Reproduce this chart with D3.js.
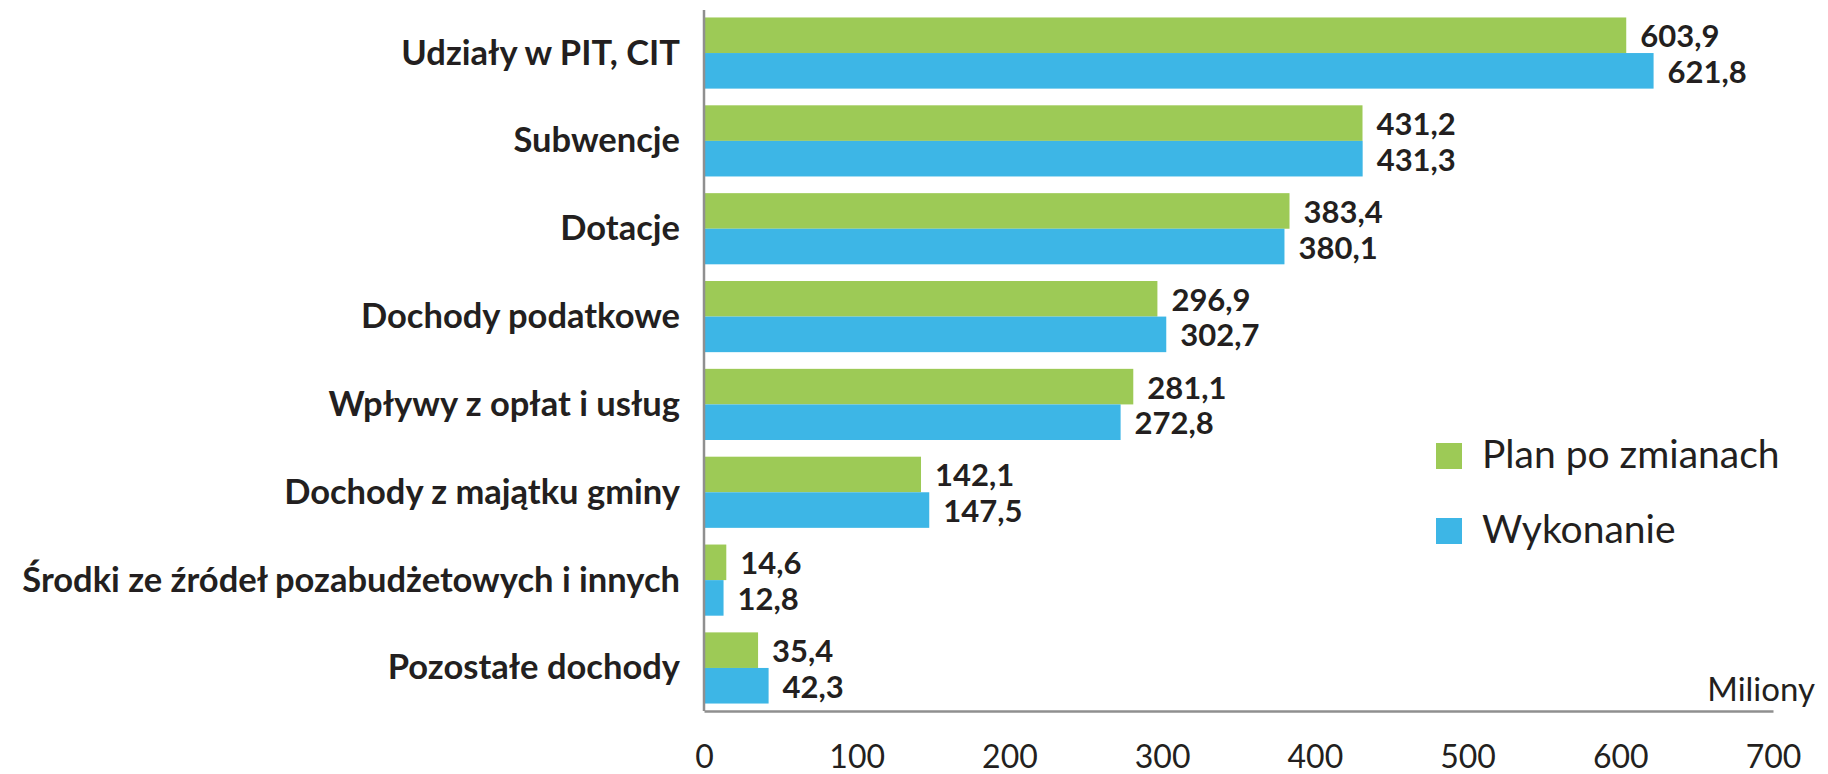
<!DOCTYPE html>
<html>
<head>
<meta charset="utf-8">
<script src="https://cdn.jsdelivr.net/npm/d3@7"></script>
<style>
  body { margin: 0; background: #fff; }
  svg { display: block; }
  text { fill: #231f20; }
</style>
</head>
<body>
<div id="chart"></div>
<script>
const categories = [
    "Udziały w PIT, CIT",
    "Subwencje",
    "Dotacje",
    "Dochody podatkowe",
    "Wpływy z opłat i usług",
    "Dochody z majątku gminy",
    "Środki ze źródeł pozabudżetowych i innych",
    "Pozostałe dochody"
];
const planValues = [603.9, 431.2, 383.4, 296.9, 281.1, 142.1, 14.6, 35.4];
const wykonanieValues = [621.8, 431.3, 380.1, 302.7, 272.8, 147.5, 12.8, 42.3];
const seriesNames = ["Plan po zmianach", "Wykonanie"];
const xTicks = [0, 100, 200, 300, 400, 500, 600, 700];
const unitLabel = "Miliony";

const width = 1828, height = 774;
const colors = ["#9dca56", "#3db6e6"];

const data = categories.map((c, i) => ({
    category: c,
    values: [planValues[i], wykonanieValues[i]]
}));

const svg = d3.select("#chart")
    .append("svg")
    .attr("width", width)
    .attr("height", height);

const x = d3.scaleLinear().domain([0, 700]).range([704, 1773]);

const y = d3.scaleBand()
    .domain(categories)
    .range([10, 711])
    .paddingInner(0.19)
    .paddingOuter(0.085);

const ySub = d3.scaleBand()
    .domain([0, 1])
    .range([0, y.bandwidth()]);

const fmt = d3.formatLocale({ decimal: ",", thousands: " ", grouping: [3], currency: ["", ""] }).format(".1f");

// bars
const groups = svg.selectAll("g.group")
    .data(data)
    .enter()
    .append("g")
    .attr("class", "group")
    .attr("transform", d => `translate(0, ${y(d.category)})`);

groups.selectAll("rect")
    .data(d => d.values)
    .enter()
    .append("rect")
    .attr("x", x(0))
    .attr("y", (v, i) => ySub(i))
    .attr("width", v => x(v) - x(0))
    .attr("height", ySub.bandwidth())
    .attr("fill", (v, i) => colors[i]);

groups.selectAll("text.value")
    .data(d => d.values)
    .enter()
    .append("text")
    .attr("class", "value")
    .attr("x", v => x(v) + 14)
    .attr("y", (v, i) => ySub(i) + ySub.bandwidth() / 2 + 12)
    .style("font-family", "Lato")
    .style("font-weight", "bold")
    .style("font-size", "31px")
    .text(v => fmt(v));

// category labels
svg.selectAll("text.cat")
    .data(categories)
    .enter()
    .append("text")
    .attr("class", "cat")
    .attr("x", 680)
    .attr("y", d => y(d) + y.bandwidth() / 2 + 11.5)
    .attr("text-anchor", "end")
    .style("font-family", "Lato")
    .style("font-weight", "bold")
    .style("font-size", "34.5px")
    .text(d => d);

// axes lines
svg.append("line")
    .attr("x1", x(0)).attr("x2", x(0))
    .attr("y1", 10).attr("y2", 711)
    .attr("stroke", "#8f8f8f")
    .attr("stroke-width", 2.5);

const xAxis = svg.append("g")
    .attr("transform", "translate(0, 711)")
    .call(d3.axisBottom(x).tickValues(xTicks).tickSize(0).tickPadding(34));

xAxis.select(".domain")
    .attr("stroke", "#8f8f8f")
    .attr("stroke-width", 2.5);

xAxis.selectAll("text")
    .style("font-family", "Lato")
    .style("font-size", "32px")
    .attr("fill", "#231f20");

svg.append("text")
    .attr("x", 1815)
    .attr("y", 701)
    .attr("text-anchor", "end")
    .style("font-family", "Lato")
    .style("font-size", "33px")
    .text(unitLabel);

// legend
const legend = svg.selectAll("g.legend")
    .data(seriesNames)
    .enter()
    .append("g")
    .attr("class", "legend")
    .attr("transform", (d, i) => `translate(1436, ${443 + i * 75})`);

legend.append("rect")
    .attr("width", 26)
    .attr("height", 26)
    .attr("fill", (d, i) => colors[i]);

legend.append("text")
    .attr("x", 46)
    .attr("y", 25)
    .style("font-family", "Lato")
    .style("font-size", "39px")
    .text(d => d);
</script>
</body>
</html>
